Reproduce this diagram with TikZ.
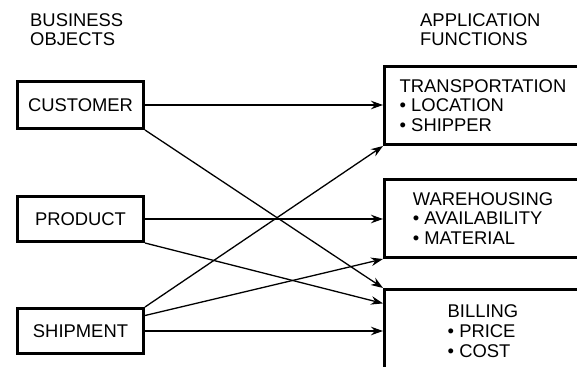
\documentclass[tikz,border=0pt]{standalone}
\usepackage{fontspec}
\setmainfont{Liberation Sans}
\usetikzlibrary{arrows.meta,calc}
\begin{document}
\begin{tikzpicture}[x=1pt,y=-1pt,
  every node/.style={font=\fontsize{18.4}{19.6}\selectfont},
  objbox/.style={draw,line width=3.2pt,minimum width=125.8pt,inner sep=0pt},
  funcbox/.style={draw,line width=3.2pt,minimum width=196.8pt,minimum height=77.8pt,inner sep=0pt,align=left},
  head/.style={anchor=north west,inner sep=0pt,align=left},
  link/.style={line width=1.3pt,-{Stealth[length=12pt,width=8.5pt]}}]
\useasboundingbox (0,0) rectangle (577,366);
\clip (0,0) rectangle (577,366);
\node[head] (h1) at (30,13.3) {BUSINESS\\OBJECTS};
\node[head] (h2) at (420,13.3) {APPLICATION\\FUNCTIONS};
\node[objbox,minimum height=46.8pt] (cust) at (80.5,105) {CUSTOMER};
\node[objbox,minimum height=44.8pt] (prod) at (80.5,219) {PRODUCT};
\node[objbox,minimum height=44.8pt] (ship) at (80.5,331) {SHIPMENT};
\node[funcbox] (trans) at (483,105.5) {TRANSPORTATION\\• LOCATION\\• SHIPPER};
\node[funcbox] (ware) at (483,218.5) {WAREHOUSING\\• AVAILABILITY\\• MATERIAL};
\node[funcbox,minimum height=83pt] (bill) at (483,331.1) {BILLING\\• PRICE\\• COST};
\coordinate (billin) at ($(bill.north west)+(0,15.4)$);
\coordinate (shipout) at ($(ship.north east)+(0,8.5)$);
\draw[link] (cust.east) -- (cust.east -| trans.west);
\draw[link] (cust.south east) -- (bill.north west);
\draw[link] (prod.east) -- (prod.east -| ware.west);
\draw[link] (prod.south east) -- (billin);
\draw[link] (ship.north east) -- (trans.south west);
\draw[link] (shipout) -- (ware.south west);
\draw[link] (ship.east) -- (ship.east -| bill.west);
\end{tikzpicture}
\end{document}
